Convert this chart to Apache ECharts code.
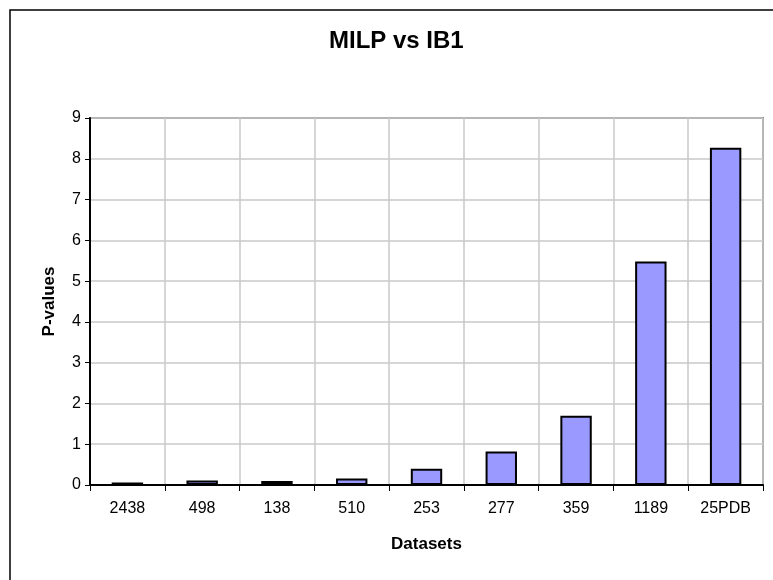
<!DOCTYPE html>
<html>
<head>
<meta charset="utf-8">
<script src="https://cdn.jsdelivr.net/npm/echarts@6/dist/echarts.min.js"></script>
<style>
html,body{margin:0;padding:0;background:#fff;}
#chart{width:773px;height:580px;}
</style>
</head>
<body>
<div id="chart"></div>
<script>
const categories = ['2438', '498', '138', '510', '253', '277', '359', '1189', '25PDB'];
const pValues = [0.06, 0.11, 0.1, 0.16, 0.4, 0.82, 1.7, 5.48, 8.27];
const yTicks = [0, 1, 2, 3, 4, 5, 6, 7, 8, 9];

const FONT = "'Liberation Sans', Arial, sans-serif";
const chart = echarts.init(document.getElementById('chart'));
chart.setOption({
  animation: false,
  backgroundColor: '#ffffff',
  title: {
    text: 'MILP vs IB1',
    left: 329,
    top: 29,
    padding: 0,
    textStyle: { fontFamily: FONT, fontSize: 24, fontWeight: 'bold', color: '#000' }
  },
  graphic: [{
    type: 'rect',
    shape: { x: 10, y: 10, width: 900, height: 700 },
    style: { fill: 'none', stroke: '#000', lineWidth: 1.5 },
    silent: true
  }],
  grid: {
    left: 90, right: 10, top: 118, bottom: 95,
    show: true, borderColor: '#808080', borderWidth: 2, backgroundColor: 'transparent'
  },
  xAxis: {
    type: 'category',
    data: categories,
    name: 'Datasets',
    nameLocation: 'middle',
    nameGap: 51,
    nameTextStyle: { fontFamily: FONT, fontSize: 17, fontWeight: 'bold', color: '#000' },
    axisLine: { lineStyle: { color: '#000', width: 2 } },
    axisTick: { show: true, length: 6, lineStyle: { color: '#000', width: 1 } },
    axisLabel: { fontFamily: FONT, fontSize: 16, color: '#000', margin: 16 },
    splitLine: { show: true, lineStyle: { color: '#c8c8c8', width: 1.5 } }
  },
  yAxis: {
    type: 'value',
    min: 0, max: 9, interval: 1,
    name: 'P-values',
    nameLocation: 'middle',
    nameGap: 32,
    nameRotate: 90,
    nameTextStyle: { fontFamily: FONT, fontSize: 17, fontWeight: 'bold', color: '#000' },
    axisLine: { show: true, lineStyle: { color: '#000', width: 2 } },
    axisTick: { show: true, length: 5, lineStyle: { color: '#000', width: 1 } },
    axisLabel: {
      fontFamily: FONT, fontSize: 16, color: '#000', margin: 9,
      formatter: v => yTicks.includes(v) ? String(v) : ''
    },
    splitLine: { show: true, lineStyle: { color: '#c8c8c8', width: 1.5 } }
  },
  series: [{
    type: 'bar',
    data: pValues,
    barWidth: '42%',
    itemStyle: { color: '#9999ff', borderColor: '#000', borderWidth: 2 }
  }]
});
</script>
</body>
</html>
